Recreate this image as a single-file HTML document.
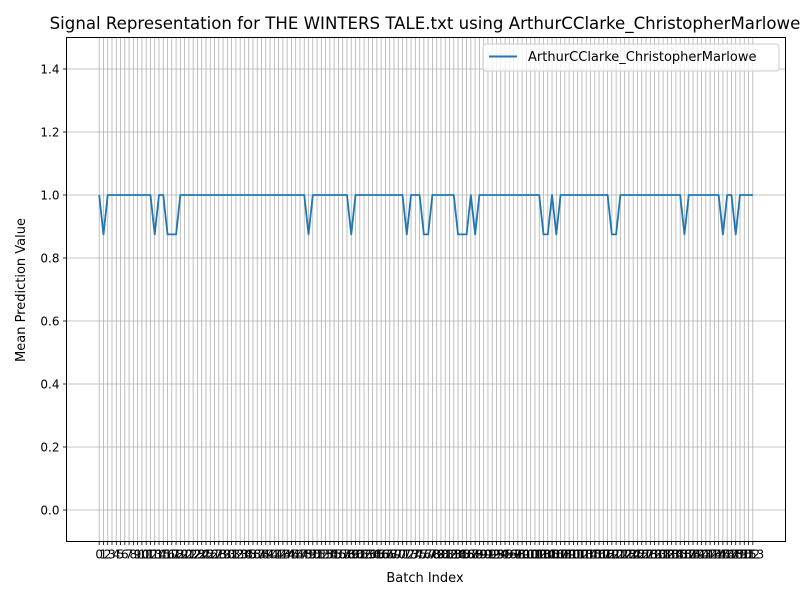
<!DOCTYPE html>
<html><head><meta charset="utf-8"><style>
body{margin:0;background:#fff}
svg{font-family:"DejaVu Sans","Liberation Sans",sans-serif}
</style></head><body>
<svg id="c" width="800" height="600" viewBox="0 0 800 600" xmlns="http://www.w3.org/2000/svg">
<rect width="800" height="600" fill="#fff"/>
<text x="425" y="29" font-size="16.6" text-anchor="middle">Signal Representation for THE WINTERS TALE.txt using ArthurCClarke_ChristopherMarlowe</text>
<g id="grid"></g>
<g id="ticks"></g>
<g id="series"></g>
<rect x="66.5" y="37.5" width="719" height="504" fill="none" stroke="#000" stroke-width="1"/>
<text x="425" y="582" font-size="13" text-anchor="middle">Batch Index</text>
<text transform="translate(25,290) rotate(-90)" font-size="13" text-anchor="middle">Mean Prediction Value</text>
<g>
<rect x="483" y="44" width="296" height="27" rx="3" fill="#fff" fill-opacity="0.8" stroke="#ccc"/>
<line x1="489" y1="56.5" x2="517" y2="56.5" stroke="#1f77b4" stroke-width="2"/>
<text x="528" y="61" font-size="13">ArthurCClarke_ChristopherMarlowe</text>
</g>
</svg>
<script>
const N = 154;
const lowIdx = [1,13,16,17,18,49,59,72,76,77,84,85,86,88,104,105,107,120,121,137,146,149];
const lowValue = 0.875;
const highValue = 1.0;
const yTicks = [0.0,0.2,0.4,0.6,0.8,1.0,1.2,1.4];
const yTickLabels = ["0.0","0.2","0.4","0.6","0.8","1.0","1.2","1.4"];
const values = [];
for (let i = 0; i < N; i++) values.push(lowIdx.includes(i) ? lowValue : highValue);

const L=66.5,R=785.5,T=37.5,B=541.5;
const xmin=-0.05*(N-1), xmax=(N-1)*1.05;
const ymin=-0.1, ymax=1.5;
const X=v=>L+(v-xmin)/(xmax-xmin)*(R-L);
const Y=v=>B-(v-ymin)/(ymax-ymin)*(B-T);
const NS="http://www.w3.org/2000/svg";
const grid=document.getElementById('grid'), ticks=document.getElementById('ticks'), series=document.getElementById('series');
function mk(tag,attrs,parent){const e=document.createElementNS(NS,tag);for(const k in attrs)e.setAttribute(k,attrs[k]);parent.appendChild(e);return e;}
for(let i=0;i<N;i++){
  const x=X(i);
  const g=mk('line',{x1:x,x2:x,y1:T,y2:B,stroke:'#b0b0b0','stroke-width':0.8},grid);
  
  
  mk('line',{x1:x,x2:x,y1:B,y2:B+3.5,stroke:'#000','stroke-width':0.8},ticks);
  const t=mk('text',{x:x,y:B+17,'font-size':12,'text-anchor':'middle'},ticks);
  t.textContent=String(i);
  
  
}
yTicks.forEach((v,k)=>{
  const y=Y(v);
  const g=mk('line',{x1:L,x2:R,y1:y,y2:y,stroke:'#b0b0b0','stroke-width':0.8},grid);
  
  
  mk('line',{x1:L-3.5,x2:L,y1:y,y2:y,stroke:'#000','stroke-width':0.8},ticks);
  const t=mk('text',{x:L-7,y:y+4.5,'font-size':12,'text-anchor':'end'},ticks);
  t.textContent=yTickLabels[k];
  
  
});
const pts=values.map((v,i)=>X(i).toFixed(2)+','+Y(v).toFixed(2)).join(' ');
const pl=mk('polyline',{points:pts,fill:'none',stroke:'#1f77b4','stroke-width':1.8,'stroke-linejoin':'round'},series);


</script>
</body></html>
